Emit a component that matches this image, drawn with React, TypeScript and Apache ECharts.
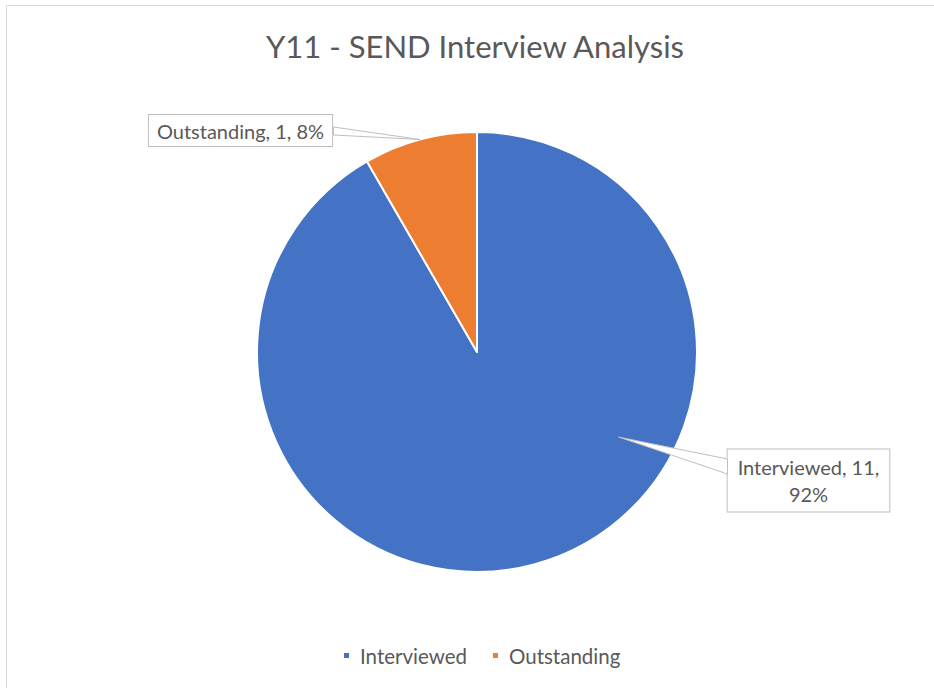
import React, { useEffect, useRef } from "react";
import * as echarts from "echarts";

const categories = ["Interviewed", "Outstanding"];
const values = [11, 1];
const colors = ["#4472C4", "#ED7D31"];
const titleText = "Y11 - SEND Interview Analysis";

const FONT = "Lato, 'Open Sans', sans-serif";
const TEXT = "#595959";
const LINE = "#bfbfbf";

export default function App() {
  const ref = useRef<HTMLDivElement>(null);
  useEffect(() => {
    if (!ref.current) return;
    const chart = echarts.init(ref.current, null, { renderer: "svg" });
    const total = values.reduce((a, b) => a + b, 0);
    const cx = 477;
    const cy = 352;
    const r = 220;
    // callout tips
    const tipA = [
      cx + 0.75 * r * Math.cos((31 * Math.PI) / 180),
      cy + 0.75 * r * Math.sin((31 * Math.PI) / 180),
    ];
    const aB = ((90 + 15) * Math.PI) / 180;
    const tipB = [cx + r * Math.cos(aB), cy - r * Math.sin(aB)];

    chart.setOption({
      animation: false,
      backgroundColor: "#ffffff",
      title: {
        text: titleText,
        left: 261,
        top: 25,
        textStyle: { fontFamily: FONT, fontSize: 31, fontWeight: "normal", color: TEXT },
      },
      legend: {
        data: categories,
        bottom: 17,
        left: 337,
        icon: "rect",
        itemWidth: 7,
        itemHeight: 7,
        itemGap: 24,
        textStyle: { fontFamily: FONT, fontSize: 20.5, color: TEXT, padding: [0, 0, 0, 5] },
      },
      graphic: [
        {
          type: "rect",
          shape: { x: 6.5, y: 5.5, width: 1000, height: 1000 },
          style: { fill: "none", stroke: "#d9d9d9", lineWidth: 1 },
          silent: true,
        },
        {
          type: "polygon",
          z: 100,
          shape: { points: [tipA, [727.5, 459], [727.5, 474]] },
          style: { fill: "#ffffff", stroke: LINE, lineWidth: 1 },
          silent: true,
        },
        {
          type: "polygon",
          z: 100,
          shape: { points: [tipB, [333.5, 127], [333.5, 135]] },
          style: { fill: "#ffffff", stroke: LINE, lineWidth: 1 },
          silent: true,
        },
      ],
      series: [
        {
          type: "pie",
          center: [cx, cy],
          radius: r,
          startAngle: 90,
          clockwise: true,
          itemStyle: { borderColor: "#ffffff", borderWidth: 2 },
          data: categories.map((c, i) => ({
            name: c,
            value: values[i],
            itemStyle: { color: colors[i] },
            label:
              i === 0
                ? { padding: [4, 10, 4, 10] }
                : { padding: [3, 8, 3, 8] },
          })),
          label: {
            show: true,
            fontFamily: FONT,
            fontSize: 20,
            color: TEXT,
            backgroundColor: "#ffffff",
            borderColor: LINE,
            borderWidth: 1,
            align: "center",
            formatter: (p: any) => {
              const pct = Math.round((p.value / total) * 100);
              return p.dataIndex === 0
                ? `{a|${p.name}, ${p.value},}\n{a|${pct}%}`
                : `{b|${p.name}, ${p.value}, ${pct}%}`;
            },
            rich: {
              a: { fontFamily: FONT, fontSize: 20, color: TEXT, lineHeight: 27 },
              b: { fontFamily: FONT, fontSize: 20, color: TEXT, lineHeight: 25 },
            },
          },
          labelLine: { show: false },
          labelLayout: (params: any) => {
            if (params.dataIndex === 0) {
              return { x: 808.5, y: 480.5, align: "center", verticalAlign: "middle" };
            }
            return { x: 240.5, y: 130.5, align: "center", verticalAlign: "middle" };
          },
        },
      ],
    });
    return () => chart.dispose();
  }, []);
  return (
    <div
      ref={ref}
      style={{ position: "absolute", left: 0, top: 0, width: 934, height: 688 }}
    />
  );
}
